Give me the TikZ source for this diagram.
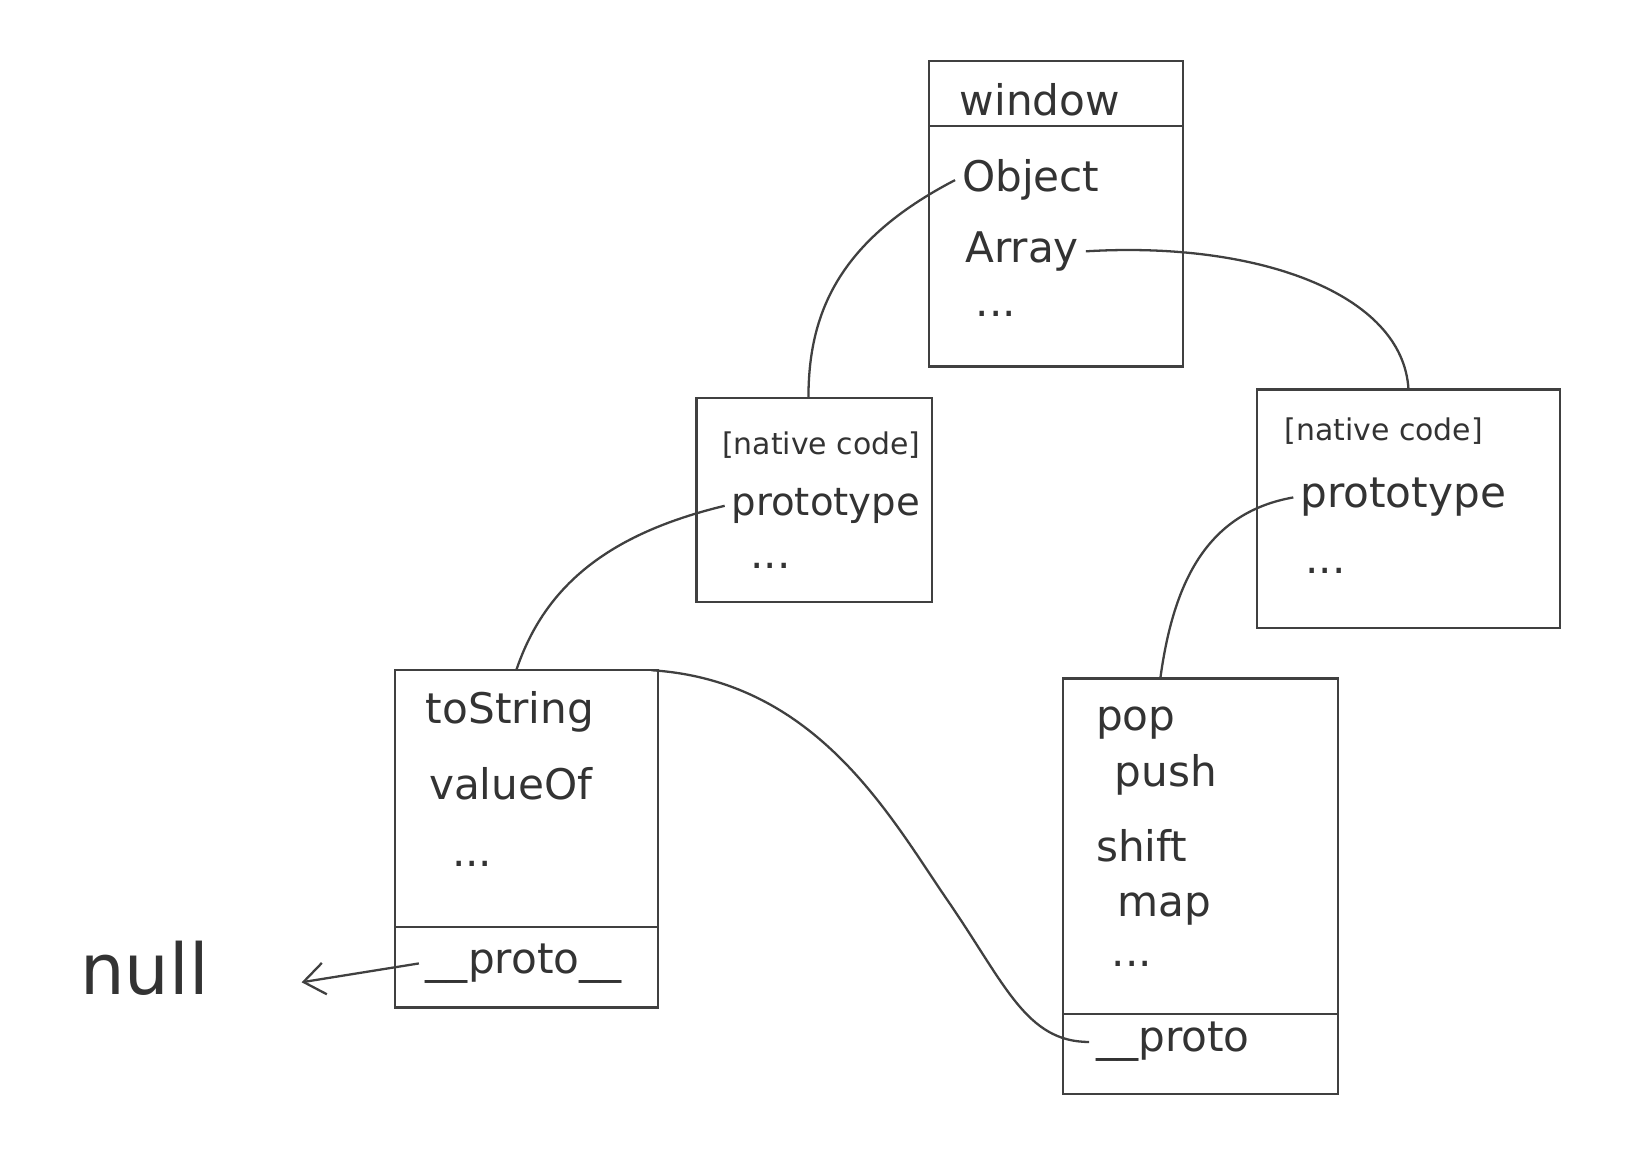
\documentclass[tikz,border=0pt]{standalone}
\usepackage{fontspec}
\usetikzlibrary{arrows.meta}
\setmainfont{DejaVu Sans}
\begin{document}
\begin{tikzpicture}[x=0.02094cm,y=-0.02094cm,line width=1.3pt,draw=black!75,
  box/.style={draw=black!75,line width=1.3pt},
  lbl/.style={font=\fontsize{17}{20}\selectfont,text=black!80},
  big/.style={font=\fontsize{24}{28}\selectfont,text=black!80}]
\useasboundingbox (0,0) rectangle (1568,1098);
\fill[white] (0,0) rectangle (1568,1098);
% window
\draw[box] (887,58) rectangle (1130,350);
\coordinate (wl) at (887,120); \coordinate (wr) at (1130,120);
\draw (wl) -- (wr);
\node[big,anchor=west] (wt) at (910,95) {window};
\node[big,anchor=west] (obj) at (912,172) {Object};
\node[big,anchor=west] (arr) at (915,240) {Array};
\node[big,anchor=west] (wd) at (925,300) {...};
% left native
\draw[box] (665,380) rectangle (890,575);
\node[lbl,anchor=west] (lnc) at (683,425) {[native code]};
\node[big,anchor=west,font=\fontsize{22}{26}\selectfont] (lp) at (692,483) {prototype};
\node[big,anchor=west] (ld) at (710,540) {...};
% right native
\draw[box] (1200,372) rectangle (1490,600);
\node[lbl,anchor=west] (rnc) at (1220,412) {[native code]};
\node[big,anchor=west] (rp) at (1235,475) {prototype};
\node[big,anchor=west] (rd) at (1240,545) {...};
% Object.prototype
\draw[box] (377,640) rectangle (628,962);
\coordinate (ol) at (377,885); \coordinate (or) at (628,885);
\draw (ol) -- (or);
\coordinate (optop) at (493,640); \coordinate (opne) at (622,640);
\node[big,anchor=west] (ts) at (400,680) {toString};
\node[big,anchor=west] (vo) at (403,748) {valueOf};
\node[big,anchor=west] (od) at (425,825) {...};
\node[big,anchor=west] (opp) at (400,920) {\_\_proto\_\_};
% Array.prototype
\draw[box] (1015,648) rectangle (1278,1045);
\coordinate (al) at (1015,968); \coordinate (ar) at (1278,968);
\draw (al) -- (ar);
\coordinate (aptop) at (1108,648);
\node[big,anchor=west] (pop) at (1040,690) {pop};
\node[big,anchor=west] (push) at (1058,740) {push};
\node[big,anchor=west] (shift) at (1040,808) {shift};
\node[big,anchor=west] (map) at (1060,868) {map};
\node[big,anchor=west] (ad) at (1055,920) {...};
\node[big,anchor=west] (app) at (1040,995) {\_\_proto};
% null
\node[font=\fontsize{40}{44}\selectfont,text=black!80] (null) at (138,925) {null};
\coordinate (nullarrow) at (288,938);
\coordinate (lntop) at (772,380); \coordinate (rntop) at (1345,372);
% connectors
\draw (obj.west) .. controls (800,230) and (772,300) .. (lntop);
\draw (arr.east) .. controls (1200,230) and (1340,280) .. (rntop);
\draw (lp.west) .. controls (580,510) and (520,560) .. (optop);
\draw (rp.west) .. controls (1150,490) and (1120,560) .. (aptop);
\draw (opne) .. controls (780,650) and (850,780) .. (905,860) .. controls (960,940) and (980,995) .. (app.west);
\draw[->,>={Straight Barb[length=12pt,width=18pt]}] (opp.west) -- (nullarrow);
\end{tikzpicture}
\end{document}
